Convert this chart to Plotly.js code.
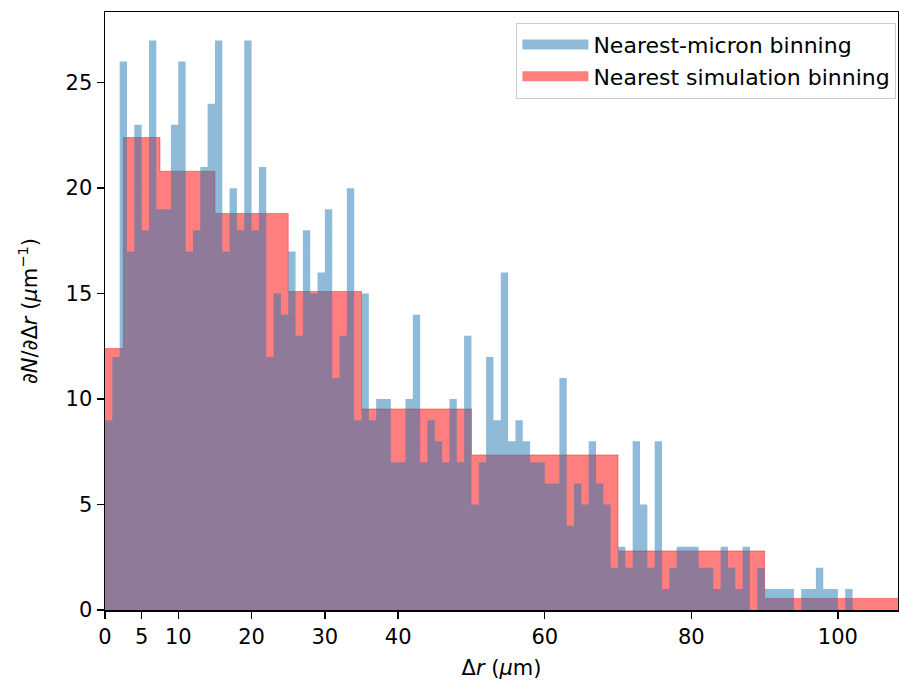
<!DOCTYPE html>
<html>
<head>
<meta charset="utf-8">
<script src="https://cdn.plot.ly/plotly-3.0.1.min.js"></script>
<style>html,body{margin:0;padding:0;background:#fff;}#chart{width:899px;height:682px;}</style>
</head>
<body>
<div id="chart"></div>
<script>
// Nearest-micron binning: counts per 1-micron bin, starting at 0 µm
const micronBinStart = 0;
const micronBinWidth = 1;
const micronCounts = [
  9,12,26,17,23,18,27,19,19,23,
  26,17,18,21,24,27,17,20,18,27,
  18,21,12,15,14,17,13,18,15,16,
  19,11,13,20,9,15,9,10,10,7,
  7,10,14,7,9,8,7,10,7,13,
  5,7,12,9,16,8,9,8,7,7,
  6,6,11,4,6,5,8,6,5,2,
  3,2,8,5,2,8,1,2,3,3,
  3,2,2,1,3,2,1,3,0,2,
  1,1,1,1,0,1,1,2,1,1,0,1
];

// Nearest simulation binning: bin edges (µm) and density (µm^-1)
const simEdges = [0, 2.5, 7.5, 15, 25, 35, 50, 70, 90, 110];
const simDensity = [12.4, 22.4, 20.8, 18.8, 15.1, 9.53, 7.35, 2.8, 0.55];

const xTickVals = [0, 5, 10, 20, 30, 40, 60, 80, 100];
const yTickVals = [0, 5, 10, 15, 20, 25];

const BLUE = 'rgba(31,119,180,0.5)';
const RED = 'rgba(255,0,0,0.5)';

// bin edges for the 1-micron histogram (one more edge than counts)
const microEdges = micronCounts.concat([0]).map((_, i) => micronBinStart + i * micronBinWidth);
const microStepY = micronCounts.concat([micronCounts[micronCounts.length - 1]]);
const simStepY = simDensity.concat([simDensity[simDensity.length - 1]]);

const font = {family: 'DejaVu Sans, sans-serif', size: 21, color: '#000'};

const traces = [
  {
    // step-filled histogram, simulation bins
    type: 'scatter', mode: 'lines',
    x: simEdges, y: simStepY,
    line: {shape: 'hv', width: 0.8, color: RED},
    fill: 'tozeroy', fillcolor: RED,
    showlegend: false, hoverinfo: 'skip'
  },
  {
    // 1-micron histogram: each bin one flat step, filled to zero
    type: 'scatter', mode: 'lines',
    x: microEdges, y: microStepY,
    line: {shape: 'hv', width: 0, color: BLUE},
    fill: 'tozeroy', fillcolor: BLUE,
    showlegend: false, hoverinfo: 'skip'
  },
  // legend patches
  {
    type: 'scatter', mode: 'lines', x: [null], y: [null],
    line: {width: 16, color: BLUE},
    name: 'Nearest-micron binning', legendrank: 1
  },
  {
    type: 'scatter', mode: 'lines', x: [null], y: [null],
    line: {width: 16, color: RED},
    name: 'Nearest simulation binning', legendrank: 2
  }
];

const layout = {
  width: 899, height: 682,
  margin: {l: 105, r: 1, t: 12, b: 72, pad: 0},
  paper_bgcolor: '#fff', plot_bgcolor: '#fff',
  font: font,
  showlegend: true,
  legend: {
    x: 0.998, xanchor: 'right', y: 0.982, yanchor: 'top',
    bgcolor: 'rgba(255,255,255,0.8)', bordercolor: '#cccccc', borderwidth: 1,
    itemwidth: 66,
    font: {family: 'DejaVu Sans, sans-serif', size: 22, color: '#000'}
  },
  xaxis: {
    range: [0, 108.2],
    tickvals: xTickVals, ticktext: xTickVals.map(String),
    ticks: 'outside', ticklen: 7, tickwidth: 1.5, tickcolor: '#000',
    showline: true, linecolor: '#000', linewidth: 1.5, mirror: true,
    showgrid: false, zeroline: false,
    tickfont: font,
    title: {text: 'Δ<i>r</i> (<i>μ</i>m)', font: font, standoff: 12}
  },
  yaxis: {
    range: [0, 28.35],
    tickvals: yTickVals, ticktext: yTickVals.map(String),
    ticks: 'outside', ticklen: 7, tickwidth: 1.5, tickcolor: '#000',
    showline: true, linecolor: '#000', linewidth: 1.5, mirror: true,
    showgrid: false, zeroline: false,
    tickfont: font,
    title: {text: '∂<i>N</i>/∂Δ<i>r</i> (<i>μ</i>m<sup>−1</sup>)', font: font, standoff: 22}
  }
};

Plotly.newPlot('chart', traces, layout, {displayModeBar: false, staticPlot: true});
</script>
</body>
</html>
